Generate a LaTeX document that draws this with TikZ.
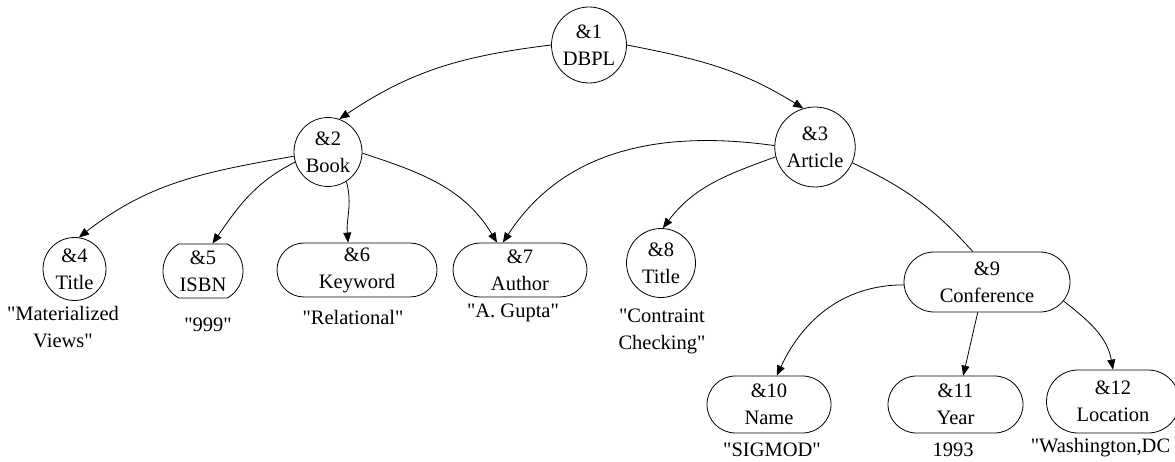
\documentclass[tikz,border=0pt]{standalone}
\usepackage{fontspec}
\setmainfont{Liberation Serif}[Ligatures=TeXOff]
\usetikzlibrary{arrows.meta,shapes.geometric,shapes.misc,positioning}

\begin{document}
\begin{tikzpicture}[x=1pt,y=-1pt,
    >={Triangle[length=10pt,width=8pt]},
    line width=0.8pt,
    node distance=45pt,
    every node/.style={font=\fontsize{20.5}{27}\selectfont,align=center,inner sep=0pt},
    oval/.style={draw,ellipse},
    pill/.style={draw,rounded rectangle}]
      \useasboundingbox (0,0) rectangle (1175,462);

      \node [oval,minimum width=75pt,minimum height=76pt] (1) at (589,45) {\&1\\DBPL};
      \node [oval,minimum width=68pt,minimum height=69pt] (2) at (328,152) {\&2\\Book};
      \node [oval,minimum width=79pt,minimum height=80pt] (3) at (815,147) {\&3\\Article};
      \node [oval,minimum width=63pt,minimum height=63pt] (4) at (74.5,269) {\&4\\Title};
      \node [pill,rounded rectangle arc length=120,minimum width=80pt,minimum height=54pt] (5) at (203,271) {\&5\\ISBN};
      \node [pill,minimum width=160pt,minimum height=54pt] (6) at (357,270) {\&6\\Keyword};
      \node [pill,minimum width=134pt,minimum height=54pt] (7) at (520,270) {\&7\\Author};
      \node [oval,minimum width=69pt,minimum height=69pt] (8) at (661,263) {\&8\\Title};
      \node [pill,minimum width=166pt,minimum height=60pt] (9) at (987,282) {\&9\\Conference};
      \node [pill,minimum width=124pt,minimum height=57pt] (10) at (769,404.5) {\&10\\Name};
      \node [pill,minimum width=135pt,minimum height=57pt] (11) at (955.5,404.5) {\&11\\Year};
      \node [pill,minimum width=133pt,minimum height=63pt] (12) at (1113,401.5) {\&12\\Location};

      \node [below of=4,xshift=-11.5pt,yshift=-13.5pt] (v4) {"Materialized\\Views"};
      \node [below of=5,xshift=5pt,yshift=-9pt] (v5) {"999"};
      \node [below of=6,xshift=-4pt,yshift=-2pt] (v6) {"Relational"};
      \node [below of=7,xshift=-7pt,yshift=2pt] (v7) {"A. Gupta"};
      \node [below of=8,xshift=1pt,yshift=-23.5pt] (v8) {"Contraint\\Checking"};
      \node [below of=10,xshift=3pt] (v10) {"SIGMOD"};
      \node [below of=11,xshift=-2.5pt] (v11) {1993};
      \node [below of=12,xshift=-12.5pt,yshift=-1.5pt] (v12) {"Washington,DC};

      \draw[->] (1.180) to[out=187,in=34] (2.71);
      \draw[->] (1.0) to[out=-11,in=148] (3.107);
      \draw[->] (2.187) to[out=190,in=38] (4.82);
      \draw[->] (2.197) to[out=207,in=55] (5.71);
      \draw[->] (2.302) to[out=-75,in=95] (6.108);
      \draw[->] (2.358) to[out=-18,in=121] (7.130);
      \draw[->] (3.178) to[out=172,in=57] (7.122);
      \draw[->] (3.194) to[out=200,in=53] (8.87);
      \draw (3.337) to[out=-25,in=132] (9.115);
      \draw[->] (9.182) to[out=180,in=65] (10.75);
      \draw[->] (9.253) -- (11.75);
      \draw[->] (9.346) to[out=-38,in=100] (12.north);
    \end{tikzpicture}
\end{document}
